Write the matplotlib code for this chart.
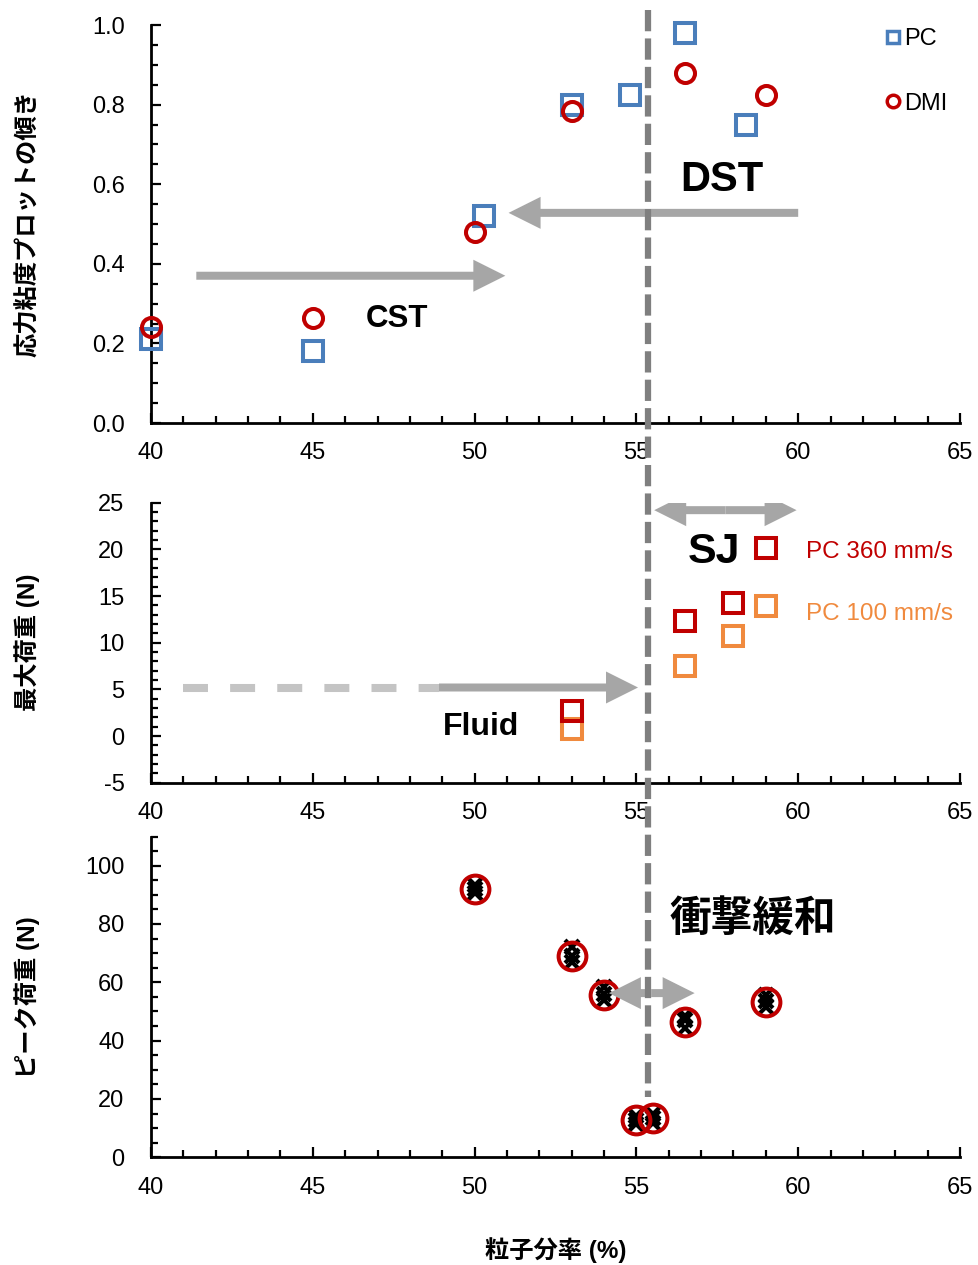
import matplotlib
matplotlib.use('Agg')
import matplotlib.pyplot as plt
from matplotlib.lines import Line2D
from matplotlib.ticker import MultipleLocator, FormatStrFormatter
import matplotlib.transforms as mtransforms

plt.rcParams['font.family'] = ['Liberation Sans', 'Noto Sans CJK JP']
plt.rcParams['axes.unicode_minus'] = False

# --- top: slope of the stress-viscosity plot ---
pc_x = [40, 45, 50.3, 53, 54.8, 56.5, 58.4]
pc_slope = [0.21, 0.18, 0.52, 0.80, 0.825, 0.98, 0.75]
dmi_x = [40, 45, 50, 53, 56.5, 59]
dmi_slope = [0.24, 0.265, 0.48, 0.785, 0.88, 0.825]

# --- middle: maximum load ---
load_x = [53, 56.5, 58, 59]
load_360 = [2.7, 12.3, 14.3, 20.1]
load_100 = [0.8, 7.5, 10.7, 13.9]

# --- bottom: peak load (mean and single trials) ---
peak_x = [50, 53, 54, 55, 55.5, 56.5, 59]
peak_mean = [92, 69, 55.7, 12.8, 13.4, 46.5, 53.4]
peak_trial_hi = [93.5, 72, 58.5, 14.3, 15, 48.5, 55.5]
peak_trial_mid = [92, 69, 56, 12.8, 13.4, 47, 53.5]
peak_trial_lo = [90.5, 67, 54, 11.3, 11.8, 44.5, 51.5]

phi_crit = 55.35   # onset of shear thickening

blue = '#4a7ebb'
red = '#c00000'
orange = '#f08a3e'
arrow_grey = '#a6a6a6'
light_grey = '#c4c4c4'

W, H = 979, 1265
fig = plt.figure(figsize=(W / 100, H / 100), dpi=100)
left, width = 151 / W, 809 / W
ax1 = fig.add_axes([left, 1 - 423 / H, width, 398 / H])
ax2 = fig.add_axes([left, 1 - 782.7 / H, width, 280 / H])
ax3 = fig.add_axes([left, 1 - 1157.3 / H, width, 320.8 / H])

tick_fs = 17
for ax in (ax1, ax2, ax3):
    ax.set_xlim(40, 65)
    ax.xaxis.set_major_locator(MultipleLocator(5))
    ax.xaxis.set_minor_locator(MultipleLocator(1))
    for s in ('top', 'right'):
        ax.spines[s].set_visible(False)
    for s in ('left', 'bottom'):
        ax.spines[s].set_linewidth(2)
    ax.tick_params(which='both', direction='in', width=1.6, labelsize=tick_fs)
    ax.tick_params(which='major', length=7.5)
    ax.tick_params(which='minor', length=5)
    ax.tick_params(axis='x', pad=14)
    ax.tick_params(axis='y', pad=19)
    ax.patch.set_alpha(0)


def px_scale(ax):
    bb = ax.get_window_extent()
    x0, x1 = ax.get_xlim()
    y0, y1 = ax.get_ylim()
    return (x1 - x0) / bb.width, (y1 - y0) / bb.height


def harrow(ax, xa, xb, y, color=arrow_grey, both=False, shaft=8, head_w=32, head_l=32, z=4):
    sx, sy = px_scale(ax)
    kw = dict(width=shaft * sy, head_width=head_w * sy, head_length=head_l * sx,
              length_includes_head=True, color=color, lw=0, zorder=z)
    if both:
        xm = (xa + xb) / 2
        ax.arrow(xm, y, xb - xm, 0, **kw)
        ax.arrow(xm, y, xa - xm, 0, **kw)
    else:
        ax.arrow(xa, y, xb - xa, 0, **kw)


label_kw = dict(fontsize=17.5, fontweight='bold', va='center')

# top panel
ax1.set_ylim(0, 1.0)
ax1.yaxis.set_major_locator(MultipleLocator(0.2))
ax1.yaxis.set_minor_locator(MultipleLocator(0.05))
ax1.yaxis.set_major_formatter(FormatStrFormatter('%.1f'))
ax1.plot(pc_x, pc_slope, 's', ls='none', ms=13.7, mfc='none', mec=blue, mew=2.9, zorder=5, clip_on=False)
ax1.plot(dmi_x, dmi_slope, 'o', ls='none', ms=13.7, mfc='none', mec=red, mew=2.9, zorder=6, clip_on=False)
harrow(ax1, 41.4, 50.95, 0.37)
harrow(ax1, 60.0, 51.05, 0.528)
ax1.text(47.6, 0.262, 'CST', fontsize=22.5, fontweight='bold', ha='center', va='center')
ax1.text(57.65, 0.61, 'DST', fontsize=30, fontweight='bold', ha='center', va='center')
ax1.set_ylabel('応力粘度プロットの傾き', **label_kw)
ax1.yaxis.set_label_coords(-0.153, 0.5)
handles = [Line2D([], [], marker='s', ls='none', ms=9, mfc='none', mec=blue, mew=2.5),
           Line2D([], [], marker='o', ls='none', ms=9, mfc='none', mec=red, mew=2.5)]
ax1.legend(handles, ['PC', 'DMI'], loc='upper left', bbox_to_anchor=(0.909, 0.993),
           frameon=False, fontsize=17, handlelength=0.6, handletextpad=0.15,
           labelspacing=1.82, borderpad=0, borderaxespad=0)

# middle panel
ax2.set_ylim(-5, 25)
ax2.yaxis.set_major_locator(MultipleLocator(5))
ax2.yaxis.set_minor_locator(MultipleLocator(1))
ax2.plot(load_x, load_360, 's', ls='none', ms=13.7, mfc='none', mec=red, mew=2.9, zorder=6)
ax2.plot(load_x, load_100, 's', ls='none', ms=13.7, mfc='none', mec=orange, mew=2.9, zorder=5)
harrow(ax2, 55.55, 59.95, 24.2, both=True)
ax2.plot([41.0, 48.9], [5.2, 5.2], color=light_grey, lw=5.8, dashes=(3.1, 2.75), solid_capstyle='butt', zorder=3)
harrow(ax2, 48.9, 55.05, 5.2)
ax2.text(57.4, 19.7, 'SJ', fontsize=31, fontweight='bold', ha='center', va='center')
ax2.text(50.2, 1.0, 'Fluid', fontsize=23, fontweight='bold', ha='center', va='center')
ax2.text(60.25, 19.7, 'PC 360 mm/s', fontsize=17.5, color=red, ha='left', va='center')
ax2.text(60.25, 13.1, 'PC 100 mm/s', fontsize=17.5, color=orange, ha='left', va='center')
ax2.set_ylabel('最大荷重 (N)', **label_kw)
ax2.yaxis.set_label_coords(-0.153, 0.5)

# bottom panel
ax3.set_ylim(0, 110)
ax3.yaxis.set_major_locator(MultipleLocator(20))
ax3.yaxis.set_minor_locator(MultipleLocator(5))
for trial in (peak_trial_hi, peak_trial_mid, peak_trial_lo):
    ax3.plot(peak_x, trial, 'x', ls='none', ms=10, mec='black', mew=3, zorder=5)
ax3.plot(peak_x, peak_mean, 'o', ls='none', ms=20, mfc='none', mec=red, mew=2.9, zorder=6)
harrow(ax3, 54.15, 56.8, 56.3, both=True, z=7)
ax3.text(58.6, 81.5, '衝撃緩和', fontsize=30, fontweight='bold', ha='center', va='center')
ax3.set_ylabel('ピーク荷重 (N)', **label_kw)
ax3.yaxis.set_label_coords(-0.153, 0.5)
ax3.set_xlabel('粒子分率 (%)', fontsize=17.5, fontweight='bold', va='center')
ax3.xaxis.set_label_coords(0.5, -0.289)

# threshold line running through all three panels
trans = mtransforms.blended_transform_factory(ax1.transData, fig.transFigure)
vline = Line2D([phi_crit, phi_crit], [1 - 10 / H, 1 - 1097 / H], transform=trans,
               color='#7f7f7f', lw=4.5, dashes=(3.4, 1.15), zorder=10)
fig.add_artist(vline)

fig.savefig('out.png', dpi=100)
